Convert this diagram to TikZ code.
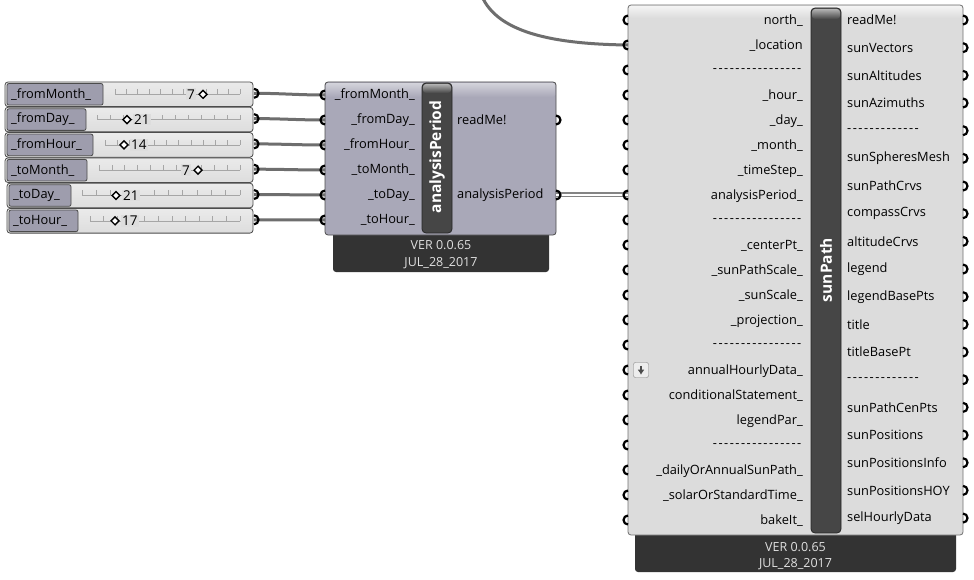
\documentclass[tikz,border=0pt]{standalone}
\usepackage{fontspec}
\setmainfont{Open Sans}
\usepackage{tikz}
\usetikzlibrary{calc}
\usetikzlibrary{arrows.meta}
\usetikzlibrary{positioning}
\usetikzlibrary{shapes.geometric}
\definecolor{wiregray}{HTML}{6E6E6E}
\definecolor{compbody}{HTML}{A9A8B8}
\definecolor{sunbody}{HTML}{DCDCDC}
\definecolor{footdark}{HTML}{333333}
\definecolor{bardark}{HTML}{464646}
\definecolor{slidebox}{HTML}{9E9DAD}
\definecolor{slidebody}{HTML}{DDDDDD}
\tikzset{>=latex}
\tikzstyle{wire} = [draw=wiregray, line width=3pt]
\tikzstyle{listwire} = [draw=wiregray!85, line width=5pt, postaction={draw=white, line width=1.5pt}]
\tikzstyle{port} = [draw=black, line width=2.2pt]
\tikzstyle{plabel} = [draw=none, inner sep=0, font=\fontsize{12.8}{14}\selectfont]
\tikzstyle{inlab} = [plabel, anchor=east]
\tikzstyle{outlab} = [plabel, anchor=west]
\tikzstyle{footer} = [draw=none, inner sep=0, text=white!88!black, font=\fontsize{12.5}{14}\selectfont]
\tikzstyle{bartext} = [draw=none, inner sep=0, text=white, rotate=90, font=\bfseries\fontsize{15.5}{17}\selectfont]
\tikzstyle{bar} = [draw=black!85, fill=bardark, rounded corners=4, line width=0.8pt]
\tikzstyle{slider} = [draw=black!70, top color=white!92!black, bottom color=slidebody, rounded corners=3, line width=0.8pt]
\tikzstyle{slidelab} = [draw=black!70, fill=slidebox, rounded corners=2, line width=0.8pt]
\tikzstyle{tick} = [draw=black!35, line width=0.6pt]
\tikzstyle{valdiamond} = [draw=black, diamond, fill=white, minimum size=8.5pt, inner sep=0, line width=1.4pt]
\tikzstyle{valtext} = [draw=none, inner sep=1pt, fill=slidebody, font=\fontsize{13.5}{15}\selectfont]
\newcommand{\inport}[1]{\draw[port] ($(#1)+(0,4.5)$) arc[start angle=90, end angle=270, radius=4.5];}
\newcommand{\outport}[1]{\draw[port] ($(#1)+(0,4.5)$) arc[start angle=90, end angle=-90, radius=4.5];}
\newcommand{\dashrow}[1]{\foreach \k in {1,...,#1}{-\kern1.5pt}}

\begin{document}
\begin{tikzpicture}[x=1pt, y=-1pt]
\useasboundingbox (0,0) rectangle (974,580);
\clip (0,0) rectangle (974,580);
\fill[white] (0,0) rectangle (974,580);

% number sliders
\foreach \i/\lab/\ox/\lx/\ts/\dx/\val/\va/\vx in {
  0/\_fromMonth\_/5/103/115/203/7/east/196,
  1/\_fromDay\_/5/86/97/127/21/west/133,
  2/\_fromHour\_/5/93/105/124/14/west/130,
  3/\_toMonth\_/5/87/99/198/7/east/191,
  4/\_toDay\_/7/71/82/116/21/west/122,
  5/\_toHour\_/7/78/90/115/17/west/121}
{
  \pgfmathsetmacro{\yt}{82+25.3*\i}
  \pgfmathsetmacro{\yc}{\yt+12.3}
  \draw[slider] (\ox,\yt) rectangle (253,\yt+24.6);
  \draw[slidelab] (\ox+2,\yt+1.5) rectangle (\lx,\yt+23.1);
  \node[plabel, anchor=west] (sl\i) at (\ox+6,\yc) {\lab};
  \draw[tick] (\ts,\yc) -- (240,\yc);
  \foreach \k in {0,...,11} \draw[tick] ({\ts+\k*(240-\ts)/11},\yc) -- ++(0,-5);
  \node[valtext, anchor=\va] (sv\i) at (\vx,\yc) {\val};
  \node[valdiamond] (sd\i) at (\dx,\yc) {};
  \coordinate (so\i) at (254,\yc-1);
}

% analysisPeriod component
\fill[footdark, rounded corners=3] (333,225) rectangle (549,272);
\draw[draw=black!70, fill=compbody, rounded corners=3, line width=0.8pt] (325,82) rectangle (556,235);
\shade[top color=compbody!50!white, bottom color=compbody, rounded corners=2.5] (325.8,82.8) rectangle (555.2,97);
\draw[bar] (422,83) rectangle (452,233);
\shade[top color=black!30, bottom color=bardark, rounded corners=3] (423,84) rectangle (451,93);
\node[bartext] (apname) at (437,157) {analysisPeriod};
\node[footer] (apver) at (441,245) {VER 0.0.65};
\node[footer] (apdate) at (441,263) {JUL\_28\_2017};
\foreach \lab [count=\n from 0] in {\_fromMonth\_, \_fromDay\_, \_fromHour\_, \_toMonth\_, \_toDay\_, \_toHour\_}
{
  \coordinate (api\n) at (325,95+25*\n);
  \node[inlab] (apl\n) at (415,95+25*\n) {\lab};
}
\coordinate (apo0) at (556,120);
\coordinate (apo1) at (556,195);
\node[outlab] (apr0) at (457,120) {readMe!};
\node[outlab] (apr1) at (457,195) {analysisPeriod};

% sunPath component
\fill[footdark, rounded corners=3] (635,525) rectangle (956,572);
\draw[draw=black!55, fill=sunbody, rounded corners=3, line width=0.8pt] (628,5) rectangle (963,535);
\shade[top color=white!96!black, bottom color=sunbody, rounded corners=2.5] (628.8,5.8) rectangle (962.2,18);
\draw[bar] (811,8) rectangle (841,533);
\shade[top color=black!30, bottom color=bardark, rounded corners=3] (812,9) rectangle (840,19);
\node[bartext] (spname) at (826,270) {sunPath};
\node[footer] (spver) at (795.5,547) {VER 0.0.65};
\node[footer] (spdate) at (795.5,564) {JUL\_28\_2017};
\foreach \lab [count=\n from 0] in {north\_, \_location, \dashrow{16}, \_hour\_, \_day\_, \_month\_, \_timeStep\_, analysisPeriod\_, \dashrow{16}, \_centerPt\_, \_sunPathScale\_, \_sunScale\_, \_projection\_, \dashrow{16}, annualHourlyData\_, conditionalStatement\_, legendPar\_, \dashrow{16}, \_dailyOrAnnualSunPath\_, \_solarOrStandardTime\_, bakeIt\_}
{
  \coordinate (spi\n) at (628,20+25*\n);
  \node[inlab] (spl\n) at (803,21+25*\n) {\lab};
}
\foreach \lab [count=\n from 0] in {readMe!, sunVectors, sunAltitudes, sunAzimuths, \dashrow{13}, sunSpheresMesh, sunPathCrvs, compassCrvs, altitudeCrvs, legend, legendBasePts, title, titleBasePt, \dashrow{13}, sunPathCenPts, sunPositions, sunPositionsInfo, sunPositionsHOY, selHourlyData}
{
  \coordinate (spo\n) at (963,20+27.67*\n);
  \node[outlab] (spr\n) at (847,20+27.67*\n) {\lab};
}
\node[draw=black!50, fill=white!93!black, rounded corners=2, minimum size=15pt, inner sep=0] (ahdicon) at (641,370) {};
\draw[-{Latex[length=5pt, width=7pt]}, line width=1.8pt, black!70] ($(ahdicon.north)+(0,3.5)$) -- ($(ahdicon.south)+(0,-3)$);

% wires
\foreach \i in {0,...,5} \draw[wire] (so\i) to[out=0, in=180] (api\i);
\draw[listwire] (apo1) -- (spi7);
\coordinate (locsrc) at (479,-12);
\draw[wire] (spi1) .. controls (545,44) and (490,30) .. (locsrc);

% ports
\foreach \i in {0,...,5} {\outport{so\i} \inport{api\i}}
\outport{apo0}
\outport{apo1}
\foreach \i in {0,...,20} {\inport{spi\i}}
\foreach \i in {0,...,18} {\outport{spo\i}}
\end{tikzpicture}
\end{document}
